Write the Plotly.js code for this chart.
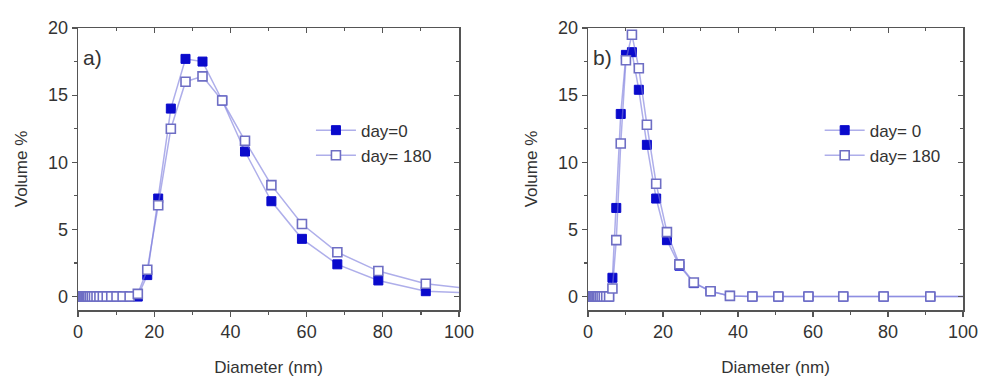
<!DOCTYPE html>
<html>
<head>
<meta charset="utf-8">
<script src="https://cdn.plot.ly/plotly-3.0.1.min.js"></script>
<style>html,body{margin:0;padding:0;background:#fff;}#chart{width:984px;height:377px;}</style>
</head>
<body>
<div id="chart"></div>
<script>
// Hydrodynamic diameter bins (nm)
const diameter = [0.4, 0.4632, 0.5365, 0.6213, 0.7195, 0.8332, 0.9649, 1.117, 1.294, 1.499,
  1.736, 2.01, 2.328, 2.696, 3.122, 3.615, 4.187, 4.849, 5.615, 6.503,
  7.531, 8.721, 10.1, 11.7, 13.54, 15.69, 18.17, 21.04, 24.36, 28.21,
  32.67, 37.84, 43.82, 50.75, 58.77, 68.06, 78.82, 91.28, 105.7];

// Panel a) volume %
const aDay0 = [0,0,0,0,0,0,0,0,0,0, 0,0,0,0,0,0,0,0,0,0, 0,0,0,0,0,
  0, 1.6, 7.3, 14.0, 17.7, 17.5, 14.6, 10.8, 7.1, 4.3, 2.4, 1.2, 0.4, 0.25];
const aDay180 = [0,0,0,0,0,0,0,0,0,0, 0,0,0,0,0,0,0,0,0,0, 0,0,0,0,0,
  0.2, 2.0, 6.8, 12.5, 16.0, 16.4, 14.6, 11.6, 8.3, 5.4, 3.3, 1.9, 0.95, 0.5];

// Panel b) volume %
const bDay0 = [0,0,0,0,0,0,0,0,0,0, 0,0,0,0,0,0,0,0,0,
  1.4, 6.6, 13.6, 18.0, 18.2, 15.4, 11.3, 7.3, 4.2, 2.3, 1.0, 0.4, 0.05,
  0,0,0,0,0,0,0];
const bDay180 = [0,0,0,0,0,0,0,0,0,0, 0,0,0,0,0,0,0,0,0,
  0.6, 4.2, 11.4, 17.6, 19.5, 17.0, 12.8, 8.4, 4.8, 2.4, 1.05, 0.4, 0.05,
  0,0,0,0,0,0,0];

const namesA = ["day=0", "day= 180"];
const namesB = ["day= 0", "day= 180"];
const xTickVals = [0, 20, 40, 60, 80, 100];
const yTickVals = [0, 5, 10, 15, 20];

const lineCol = "rgba(120,120,220,0.6)";
const fillCol = "#0a0acc";
const hollowCol = "#6e6ec4";
const font = "Liberation Sans, Arial, sans-serif";

function filled(x, y, name, xa, ya, leg) {
  return {x: x, y: y, name: name, xaxis: xa, yaxis: ya, legend: leg, type: "scatter", mode: "lines+markers",
    line: {color: lineCol, width: 1.5},
    marker: {symbol: "square", size: 9, color: fillCol, line: {color: fillCol, width: 1}},
    cliponaxis: true};
}
function hollow(x, y, name, xa, ya, leg) {
  return {x: x, y: y, name: name, xaxis: xa, yaxis: ya, legend: leg, type: "scatter", mode: "lines+markers",
    line: {color: lineCol, width: 1.5},
    marker: {symbol: "square", size: 9, color: "#ffffff", line: {color: hollowCol, width: 1.6}},
    cliponaxis: true};
}
// empty helper traces so the top/right frame axes are created
function frame(xa, ya) {
  return {x: [], y: [], xaxis: xa, yaxis: ya, type: "scatter", mode: "none", showlegend: false, hoverinfo: "skip"};
}

const data = [
  filled(diameter, aDay0, namesA[0], "x", "y", "legend"),
  hollow(diameter, aDay180, namesA[1], "x", "y", "legend"),
  filled(diameter, bDay0, namesB[0], "x2", "y2", "legend2"),
  hollow(diameter, bDay180, namesB[1], "x2", "y2", "legend2"),
  frame("x3", "y3"),
  frame("x4", "y4")
];

const axCol = "#555";
function xBottom(domain, anchor) {
  return {domain: domain, anchor: anchor, range: [0, 100], tickvals: xTickVals, ticks: "outside", ticklen: 5,
    tickwidth: 1.2, tickcolor: axCol, showline: true, mirror: true, linecolor: axCol, linewidth: 1.5,
    showgrid: false, zeroline: false,
    tickfont: {family: font, size: 18, color: "#333"},
    minor: {dtick: 10, tick0: 0, ticks: "outside", ticklen: 3, tickcolor: axCol},
    title: {text: "Diameter (nm)", font: {family: font, size: 17, color: "#333"}, standoff: 20}};
}
function yLeft(anchor) {
  return {domain: [0, 1], anchor: anchor, range: [-1, 20], tickvals: yTickVals, ticks: "outside", ticklen: 5,
    tickwidth: 1.2, tickcolor: axCol, showline: true, mirror: true, linecolor: axCol, linewidth: 1.5,
    showgrid: false, zeroline: false,
    tickfont: {family: font, size: 18, color: "#333"},
    minor: {dtick: 2.5, tick0: 0, ticks: "outside", ticklen: 3, tickcolor: axCol},
    title: {text: "Volume %", font: {family: font, size: 17, color: "#333"}, standoff: 16}};
}
function xTop(over, anchor) {
  return {overlaying: over, side: "top", anchor: anchor, range: [0, 100], tickvals: xTickVals, ticks: "inside",
    ticklen: 5, tickcolor: axCol, showline: true, linecolor: axCol, linewidth: 1.5, showgrid: false, zeroline: false,
    showticklabels: false, minor: {dtick: 10, tick0: 0, ticks: "inside", ticklen: 3, tickcolor: axCol}};
}
function yRight(over, anchor) {
  return {overlaying: over, side: "right", anchor: anchor, range: [-1, 20], tickvals: yTickVals, ticks: "inside",
    ticklen: 5, tickcolor: axCol, showline: true, linecolor: axCol, linewidth: 1.5, showgrid: false, zeroline: false,
    showticklabels: false, minor: {dtick: 2.5, tick0: 0, ticks: "inside", ticklen: 3, tickcolor: axCol}};
}

const legendBase = {font: {family: font, size: 17, color: "#333"}, bgcolor: "rgba(0,0,0,0)",
  xanchor: "left", yanchor: "top", tracegroupgap: 0, itemwidth: 40};

const layout = {
  width: 984, height: 377,
  margin: {l: 0, r: 0, t: 28, b: 67},
  paper_bgcolor: "#fff", plot_bgcolor: "#fff",
  showlegend: true,
  xaxis: xBottom([0.0793, 0.4665], "y"),
  yaxis: yLeft("x"),
  xaxis2: xBottom([0.5976, 0.9787], "y2"),
  yaxis2: yLeft("x2"),
  xaxis3: xTop("x", "y3"),
  yaxis3: yRight("y", "x3"),
  xaxis4: xTop("x2", "y4"),
  yaxis4: yRight("y2", "x4"),
  legend: Object.assign({}, legendBase, {x: 0.316, y: 0.70}),
  legend2: Object.assign({}, legendBase, {x: 0.833, y: 0.70}),
  annotations: [
    {text: "a)", xref: "paper", yref: "paper", x: 0.082, y: 0.894, xanchor: "left", yanchor: "middle", showarrow: false,
      font: {family: font, size: 21, color: "#333"}},
    {text: "b)", xref: "paper", yref: "paper", x: 0.601, y: 0.894, xanchor: "left", yanchor: "middle", showarrow: false,
      font: {family: font, size: 21, color: "#333"}}
  ]
};

Plotly.newPlot("chart", data, layout, {displayModeBar: false, staticPlot: true});
</script>
</body>
</html>
